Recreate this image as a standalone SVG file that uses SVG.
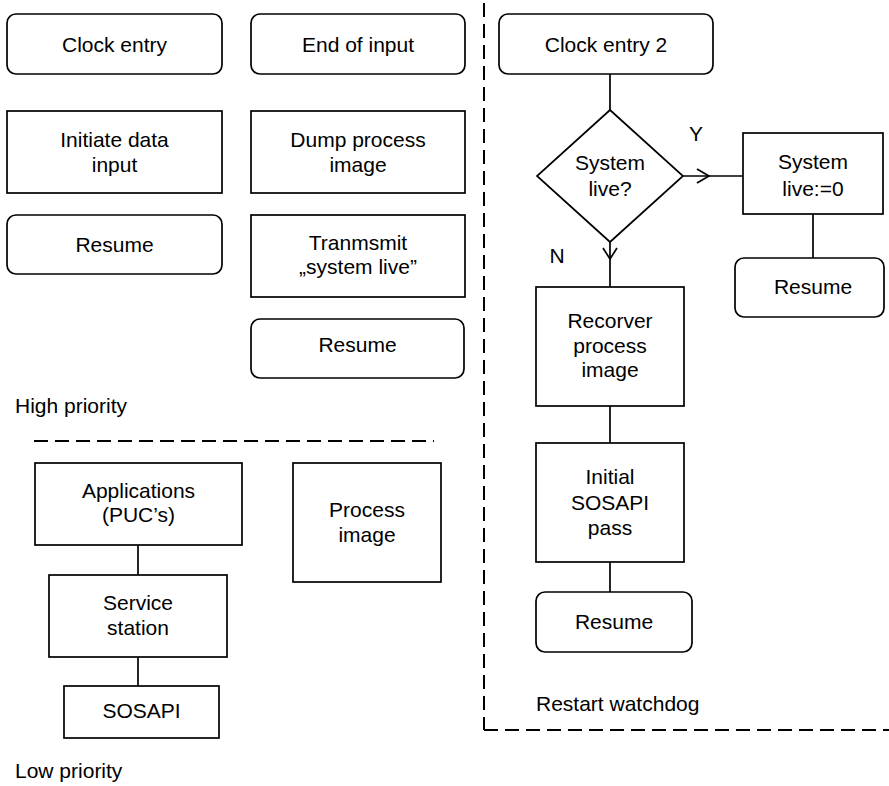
<svg xmlns="http://www.w3.org/2000/svg" width="889" height="786" viewBox="0 0 889 786">
<style>
.b{fill:#fff;stroke:#000;stroke-width:1.7}
.t{font-family:"Liberation Sans",Arial,sans-serif;font-size:21px;fill:#000;text-anchor:middle}
.l{font-family:"Liberation Sans",Arial,sans-serif;font-size:21px;fill:#000}
.c{fill:none;stroke:#000;stroke-width:1.7}
.d{fill:none;stroke:#000;stroke-width:2;stroke-dasharray:14 7}
</style>
<rect width="889" height="786" fill="#fff"/>
<g id="separators">
<line class="d" x1="484" y1="3" x2="484" y2="730"/>
<line class="d" x1="484" y1="730" x2="889" y2="730"/>
<line class="d" x1="34" y1="441" x2="434" y2="441"/>
</g>
<g id="connectors">
<line class="c" x1="610" y1="74" x2="610" y2="110"/>
<line class="c" x1="683" y1="176" x2="743" y2="176"/>
<polyline class="c" points="697,169 709,176 697,183"/>
<line class="c" x1="610" y1="242" x2="610" y2="287"/>
<polyline class="c" points="603,248 610,259 617,248"/>
<line class="c" x1="813" y1="214" x2="813" y2="258"/>
<line class="c" x1="610" y1="406" x2="610" y2="443"/>
<line class="c" x1="610" y1="562" x2="610" y2="592"/>
<line class="c" x1="138" y1="545" x2="138" y2="575"/>
<line class="c" x1="138" y1="657" x2="138" y2="686"/>
</g>
<g id="clock-entry"><rect class="b" x="7" y="14" width="215" height="60" rx="9"/><text class="t" x="114.5" y="52">Clock entry</text></g>
<g id="end-of-input"><rect class="b" x="251" y="14" width="214" height="60" rx="9"/><text class="t" x="358" y="52">End of input</text></g>
<g id="initiate-data-input"><rect class="b" x="7" y="111" width="215" height="82"/><text class="t" x="114.5" y="147">Initiate data</text><text class="t" x="114.5" y="172">input</text></g>
<g id="dump-process-image"><rect class="b" x="251" y="111" width="214" height="82"/><text class="t" x="358" y="147">Dump process</text><text class="t" x="358" y="172">image</text></g>
<g id="resume-1"><rect class="b" x="7" y="215" width="215" height="59" rx="9"/><text class="t" x="114.5" y="252">Resume</text></g>
<g id="transmit"><rect class="b" x="251" y="215" width="214" height="82"/><text class="t" x="358" y="250">Tranmsmit</text><text class="t" x="358" y="274">„system live”</text></g>
<g id="resume-2"><rect class="b" x="251" y="319" width="213" height="59" rx="9"/><text class="t" x="357.5" y="352">Resume</text></g>
<g id="high-priority"><text class="l" x="15" y="413">High priority</text></g>
<g id="applications"><rect class="b" x="35" y="463" width="207" height="82"/><text class="t" x="138.5" y="498">Applications</text><text class="t" x="138.5" y="522">(PUC’s)</text></g>
<g id="service-station"><rect class="b" x="49" y="575" width="178" height="82"/><text class="t" x="138" y="610">Service</text><text class="t" x="138" y="635">station</text></g>
<g id="sosapi"><rect class="b" x="64" y="686" width="155" height="52"/><text class="t" x="141.5" y="718">SOSAPI</text></g>
<g id="process-image"><rect class="b" x="293" y="463" width="148" height="119"/><text class="t" x="367" y="517">Process</text><text class="t" x="367" y="542">image</text></g>
<g id="low-priority"><text class="l" x="15" y="778">Low priority</text></g>
<g id="clock-entry-2"><rect class="b" x="499" y="14" width="214" height="60" rx="9"/><text class="t" x="606" y="52">Clock entry 2</text></g>
<g id="system-live-decision"><polygon class="b" points="610,110 683,176 610,242 537,176"/><text class="t" x="610" y="170">System</text><text class="t" x="610" y="196">live?</text></g>
<g id="label-y"><text class="t" x="696" y="141">Y</text></g>
<g id="label-n"><text class="t" x="557" y="263">N</text></g>
<g id="system-live-reset"><rect class="b" x="743" y="133" width="140" height="81"/><text class="t" x="813" y="169">System</text><text class="t" x="813" y="196">live:=0</text></g>
<g id="resume-3"><rect class="b" x="735" y="258" width="149" height="59" rx="9"/><text class="t" x="813" y="294">Resume</text></g>
<g id="recover-process-image"><rect class="b" x="536" y="287" width="148" height="119"/><text class="t" x="610" y="328">Recorver</text><text class="t" x="610" y="352.5">process</text><text class="t" x="610" y="377">image</text></g>
<g id="initial-sosapi-pass"><rect class="b" x="536" y="443" width="148" height="119"/><text class="t" x="610" y="484">Initial</text><text class="t" x="610" y="510">SOSAPI</text><text class="t" x="610" y="535">pass</text></g>
<g id="resume-4"><rect class="b" x="536" y="592" width="156" height="60" rx="9"/><text class="t" x="614" y="629">Resume</text></g>
<g id="restart-watchdog"><text class="l" x="536" y="711">Restart watchdog</text></g>
</svg>
